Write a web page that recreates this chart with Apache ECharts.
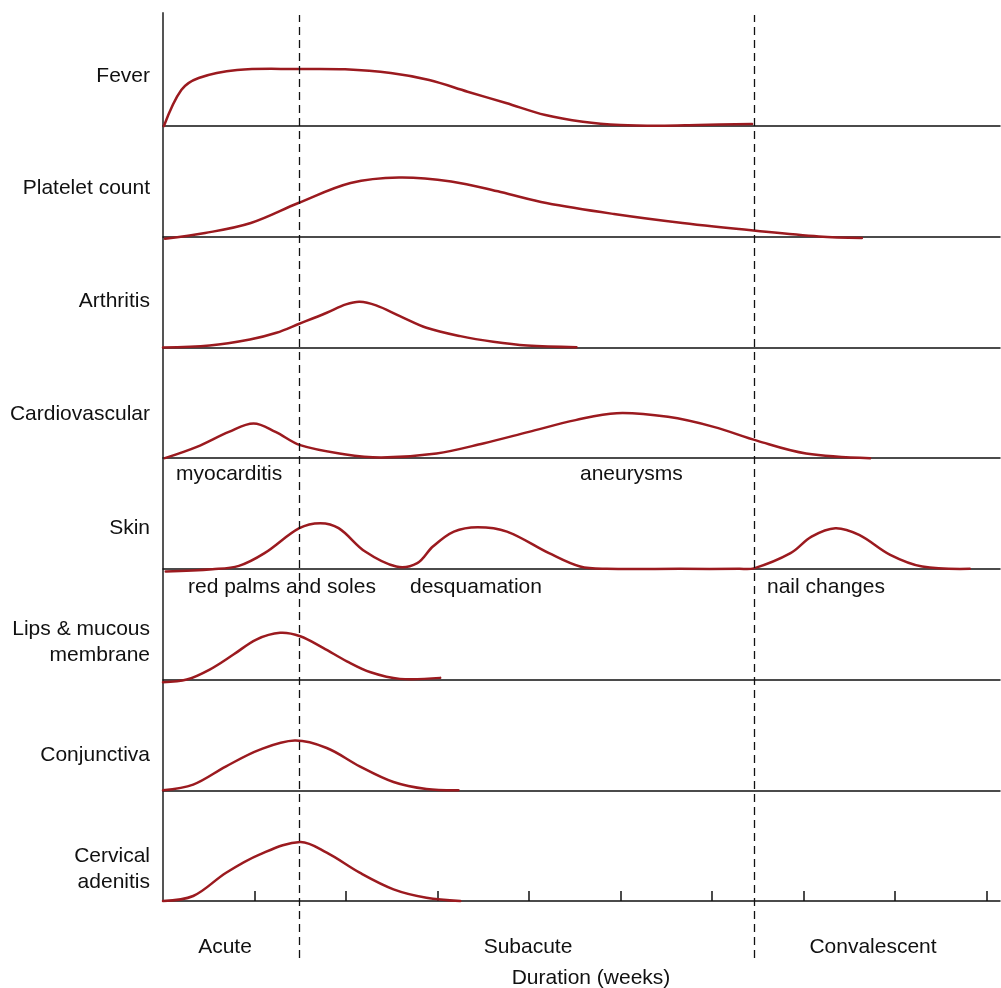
<!DOCTYPE html>
<html>
<head>
<meta charset="utf-8">
<script src="https://cdn.jsdelivr.net/npm/echarts@6/dist/echarts.min.js"></script>
<style>
  html, body { margin: 0; padding: 0; background: #fff; }
  #chart { width: 1001px; height: 988px; }
</style>
</head>
<body>
<div id="chart"></div>
<script>
// ---------------- DATA ----------------
// x = duration in weeks, y = relative intensity (0 = baseline)
const weeksMax = 9.15;
const tickWeeks = [1, 2, 3, 4, 5, 6, 7, 8, 9];
const phaseBoundaries = [1.49, 6.46];
const phaseLabels = ['Acute', 'Subacute', 'Convalescent'];
const xAxisTitle = 'Duration (weeks)';
const rowLabels = ['Fever', 'Platelet count', 'Arthritis', 'Cardiovascular', 'Skin',
  'Lips & mucous\nmembrane', 'Conjunctiva', 'Cervical\nadenitis'];

const feverData = [[0.01, 0], [0.2, 36], [0.39, 48], [0.81, 56], [1.49, 57], [1.99, 56.7], [2.49, 53],
  [2.91, 46], [3.33, 34.3], [3.75, 23], [4.18, 11], [4.59, 4.3], [5.0, 1], [5.43, 0.3], [5.85, 1], [6.44, 2]];
const plateletData = [[0.02, -2], [0.46, 3.7], [0.96, 13.7], [1.48, 33.7], [2.05, 53.7], [2.58, 59.3],
  [3.15, 55.3], [3.69, 44.7], [4.19, 33.7], [4.93, 22.7], [5.68, 13.7], [6.48, 6], [7.17, 0.3], [7.64, -1.3]];
const arthritisData = [[0, 0], [0.51, 2], [0.95, 8], [1.24, 14.7], [1.49, 23.7], [1.79, 34.7], [2.0, 43],
  [2.15, 45.7], [2.33, 42], [2.59, 31.3], [2.88, 19.7], [3.25, 11.3], [3.61, 5.7], [3.98, 2], [4.52, 0.3]];
const cardioData = [[0.02, 0], [0.37, 11.3], [0.72, 26.3], [0.99, 34.7], [1.23, 26.3], [1.5, 13], [1.98, 4],
  [2.39, 0.7], [2.99, 4.7], [3.5, 14.7], [4.0, 26.3], [4.51, 38], [4.96, 45], [5.52, 41.3], [6.02, 31.3],
  [6.5, 17.3], [7.03, 4.7], [7.73, 0]];
const skinData = [[0.03, -2.7], [0.54, -0.3], [0.83, 3], [1.11, 15.7], [1.49, 40.7], [1.72, 45.7],
  [1.92, 40.7], [2.21, 17.3], [2.55, 2.3], [2.78, 5.7], [2.95, 22.3], [3.18, 37.3], [3.44, 41.7],
  [3.76, 37.3], [4.22, 15.7], [4.56, 2.3], [4.85, 0], [5.65, 0], [6.3, 0], [6.46, 0.5], [6.86, 15.7], [7.09, 32.3],
  [7.35, 40.7], [7.61, 34], [7.95, 14], [8.30, 2.3], [8.82, 0]];
const lipsData = [[0.0, -2.7], [0.26, 0], [0.51, 10], [0.77, 25], [1.02, 40], [1.28, 46.7], [1.5, 43.3],
  [1.75, 31.7], [2.01, 18.3], [2.27, 7.3], [2.59, 0.7], [3.03, 1.7]];
const conjunctivaData = [[0.0, 0], [0.33, 5.7], [0.69, 24], [1.06, 40.7], [1.44, 49.7],
  [1.79, 42.3], [2.15, 24], [2.52, 8.3], [2.88, 1.3], [3.23, 0]];
const cervicalData = [[0.0, 0], [0.33, 5], [0.69, 28.3], [1.06, 46.7], [1.5, 59], [1.79, 48.3], [2.15, 28.3],
  [2.52, 11.7], [2.88, 3.3], [3.25, 0]];

const annotations = ['myocarditis', 'aneurysms', 'red palms and soles', 'desquamation', 'nail changes'];

const seriesData = [feverData, plateletData, arthritisData, cardioData, skinData, lipsData,
  conjunctivaData, cervicalData];

// ---------------- LAYOUT ----------------
const FONT = 'Liberation Sans, Arial, Helvetica, sans-serif';
const LEFT = 163, RIGHT = 1;
const firstBase = 126, lastBase = 901;
const panelH = (lastBase - firstBase) / 7;
const CURVE = '#9b1a1f';

const grids = [], xAxes = [], yAxes = [], series = [];
seriesData.forEach((d, i) => {
  const base = firstBase + i * panelH;
  grids.push({ left: LEFT, right: RIGHT, top: base - panelH, height: panelH });
  const last = i === seriesData.length - 1;
  xAxes.push({
    type: 'value', gridIndex: i, min: 0, max: weeksMax,
    axisLine: { show: true, onZero: false, lineStyle: { color: '#111', width: 1.5 } },
    axisTick: last ? { show: true, inside: true, length: 10, customValues: tickWeeks,
      lineStyle: { color: '#111', width: 1.5 } } : { show: false },
    axisLabel: { show: false }, splitLine: { show: false }
  });
  yAxes.push({ type: 'value', gridIndex: i, min: 0, max: panelH, show: false });
  // smooth curve through the data points, positioned by the axes' scales
  series.push({
    type: 'custom', xAxisIndex: i, yAxisIndex: i, data: d, silent: true, clip: false,
    renderItem: function (params, api) {
      if (params.dataIndex !== 0) return null;
      const pts = d.map(p => api.coord(p));
      return {
        type: 'polyline',
        shape: { points: pts, smooth: 0.35 },
        style: { stroke: CURVE, lineWidth: 2.5, fill: null, lineJoin: 'round', lineCap: 'round' }
      };
    }
  });
});

// frame grid: vertical axis line
const fi = grids.length;
grids.push({ left: LEFT, right: RIGHT, top: 13, height: lastBase - 13 });
xAxes.push({ type: 'value', gridIndex: fi, min: 0, max: weeksMax, show: false });
yAxes.push({ type: 'value', gridIndex: fi, min: 0, max: 1,
  axisLine: { show: true, lineStyle: { color: '#555', width: 2 } },
  axisTick: { show: false }, axisLabel: { show: false }, splitLine: { show: false } });
series.push({ type: 'line', xAxisIndex: fi, yAxisIndex: fi, data: [], silent: true });

// dashed phase boundaries
const di = grids.length;
grids.push({ left: LEFT, right: RIGHT, top: 15, height: 958 - 15 });
xAxes.push({ type: 'value', gridIndex: di, min: 0, max: weeksMax, show: false });
yAxes.push({ type: 'value', gridIndex: di, min: 0, max: 1, show: false });
series.push({
  type: 'line', xAxisIndex: di, yAxisIndex: di, data: [[0, 0]], silent: true,
  showSymbol: false, lineStyle: { opacity: 0 },
  markLine: {
    silent: true, symbol: ['none', 'none'], label: { show: false },
    lineStyle: { type: [8, 5], color: '#111', width: 1.3 },
    emphasis: { disabled: true },
    data: phaseBoundaries.map(v => ({ xAxis: v }))
  }
});

// ---------------- TEXT ----------------
function txt(text, x, y, align, lh) {
  return {
    type: 'text', x: x, y: y, silent: true,
    style: { text: text, fill: '#111', fontSize: 21, fontFamily: FONT,
      textAlign: align, textVerticalAlign: 'middle', verticalAlign: 'middle', lineHeight: lh || 25 }
  };
}
const rowLabelY = [76, 188, 301, 414, 528, 642, 755, 869];
const graphics = rowLabels.map((t, i) => txt(t, 150, rowLabelY[i], 'right', 26));
const annX = [176, 580, 188, 410, 767];
const annY = [474, 474, 587, 587, 587];
annotations.forEach((a, i) => graphics.push(txt(a, annX[i], annY[i], 'left')));
const phaseX = [225, 528, 873];
phaseLabels.forEach((t, i) => graphics.push(txt(t, phaseX[i], 947, 'center')));
graphics.push(txt(xAxisTitle, 591, 978, 'center'));

const chart = echarts.init(document.getElementById('chart'), null, { renderer: 'canvas' });
chart.setOption({
  animation: false,
  backgroundColor: '#fff',
  grid: grids, xAxis: xAxes, yAxis: yAxes, series: series,
  graphic: graphics
});
</script>
</body>
</html>
